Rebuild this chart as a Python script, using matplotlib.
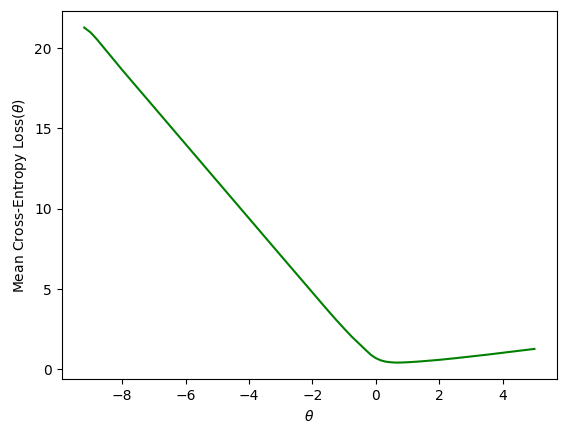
import numpy as np
import matplotlib.pyplot as plt

# values
theta = [-9.2, -9.0, -8.8, -8.0, -7.0, -6.0, -5.0, -4.0, -3.0, -2.0, -1.75,
         -1.5, -1.25, -1.0, -0.75, -0.5, -0.3, -0.15, 0.0, 0.15, 0.3, 0.45,
         0.6, 0.75, 0.9, 1.1, 1.4, 2.0, 2.5, 3.0, 3.5, 4.0, 4.5, 5.0]
loss = [21.28, 20.98, 20.55, 18.64, 16.33, 14.02, 11.71, 9.40, 7.09, 4.79, 4.21,
        3.64, 3.08, 2.54, 2.02, 1.55, 1.17, 0.90, 0.70, 0.57, 0.49, 0.45,
        0.43, 0.43, 0.44, 0.46, 0.50, 0.60, 0.70, 0.81, 0.92, 1.04, 1.16, 1.28]

fig = plt.figure(figsize=(5.66, 4.33), dpi=100)
plt.plot(theta, loss, color="green")
plt.xlabel(r"$\theta$")
plt.ylabel(r"Mean Cross-Entropy Loss($\theta$)")
plt.subplots_adjust(left=0.109, right=0.984, top=0.975, bottom=0.124)
plt.savefig("out.png")
